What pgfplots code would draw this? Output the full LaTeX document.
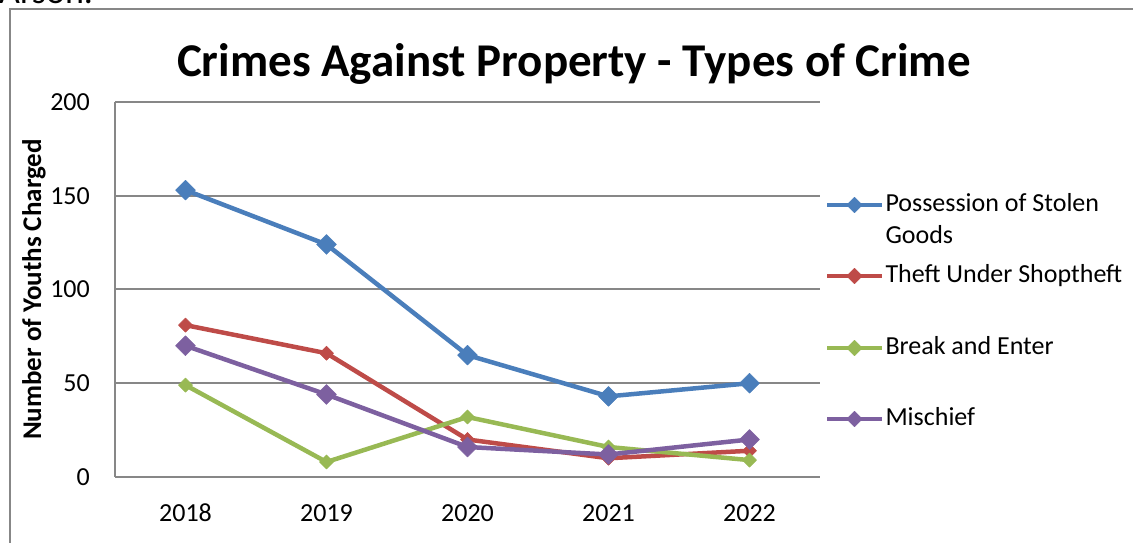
\documentclass[border=0pt]{standalone}
\usepackage{pgfplots}
\pgfplotsset{compat=1.18}
\usepackage{fontspec}
\setmainfont{Carlito}
\definecolor{cblue}{HTML}{4A7EBB}
\definecolor{cred}{HTML}{BE4B48}
\definecolor{cgreen}{HTML}{98B954}
\definecolor{cpurple}{HTML}{7D60A0}
\definecolor{cgrid}{HTML}{878787}
\begin{document}
\begin{tikzpicture}[x=1pt,y=1pt]
\useasboundingbox (0,0) rectangle (1133,543);
\begin{scope}
\clip (0,0) rectangle (1133,543);
\node[anchor=base west, inner sep=0pt, font=\fontsize{36}{40}\selectfont] at (-1,539) {Arson.};
\end{scope}
\draw[cgrid, line width=2pt] (9.5,-2) -- (9.5,533.5) -- (1140,533.5);
\node[anchor=base, inner sep=0pt, font=\fontsize{47}{54}\selectfont\bfseries] at (574,466) {Crimes Against Property - Types of Crime};
\begin{axis}[
  at={(115pt,66pt)}, anchor=south west,
  scale only axis, width=705pt, height=375pt,
  xmin=-0.5, xmax=4.5, ymin=0, ymax=200,
  xtick={0,...,4}, xticklabels={2018,2019,2020,2021,2022},
  ytick={0,50,...,200},
  /pgf/number format/assume math mode=true,
  axis x line*=bottom, axis y line*=left,
  axis line style={-, cgrid, line width=2pt},
  ymajorgrids, grid style={cgrid, line width=2pt},
  major tick length=0pt,
  tick label style={font=\fontsize{26}{30}\selectfont, text=black, inner sep=0pt},
  yticklabel style={anchor=east, xshift=-25pt},
  xticklabel style={anchor=north, yshift=-27pt},
  ylabel={Number of Youths Charged},
  ylabel style={at={(axis description cs:0,0.5)}, anchor=center, yshift=81pt, font=\fontsize{27}{30}\selectfont\bfseries, inner sep=0pt},
  legend style={at={(axis description cs:1.0071,0.76)}, anchor=north west, draw=none, fill=none, inner sep=0pt, outer sep=0pt, row sep=0pt,
    nodes={inner sep=0pt, inner xsep=1.5pt, font=\fontsize{26}{30}\selectfont}},
  legend cell align=left,
  legend image code/.code={\draw[#1, line width=4pt, mark repeat=2, mark phase=2, mark size=5.5pt] plot coordinates {(0pt,0pt)(27.5pt,0pt)(55pt,0pt)};},
  every axis plot/.append style={line width=4.5pt, line join=round},
]
\addplot[cblue, mark=square*, mark size=7pt, mark options={rotate=45, line width=0.5pt}] coordinates {(0,153)(1,124)(2,65)(3,43)(4,50)};
\addlegendentry[text height=20pt, text depth=6pt]{Possession of Stolen}
\addlegendimage{empty legend}
\addlegendentry[text height=26pt, text depth=18pt]{Goods}
\addplot[cred, mark=square*, mark size=5pt, mark options={rotate=45, line width=0.5pt}] coordinates {(0,81)(1,66)(2,20)(3,10)(4,14)};
\addlegendentry[text height=21pt, text depth=7pt]{Theft Under Shoptheft}
\addplot[cgreen, mark=square*, mark size=5pt, mark options={rotate=45, line width=0.5pt}] coordinates {(0,49)(1,8)(2,32)(3,16)(4,9)};
\addlegendentry[text height=65pt, text depth=51pt]{Break and Enter}
\addplot[cpurple, mark=square*, mark size=7pt, mark options={rotate=45, line width=0.5pt}] coordinates {(0,70)(1,44)(2,16)(3,12)(4,20)};
\addlegendentry[text height=20pt, text depth=6pt]{Mischief}
\end{axis}
\end{tikzpicture}
\end{document}
